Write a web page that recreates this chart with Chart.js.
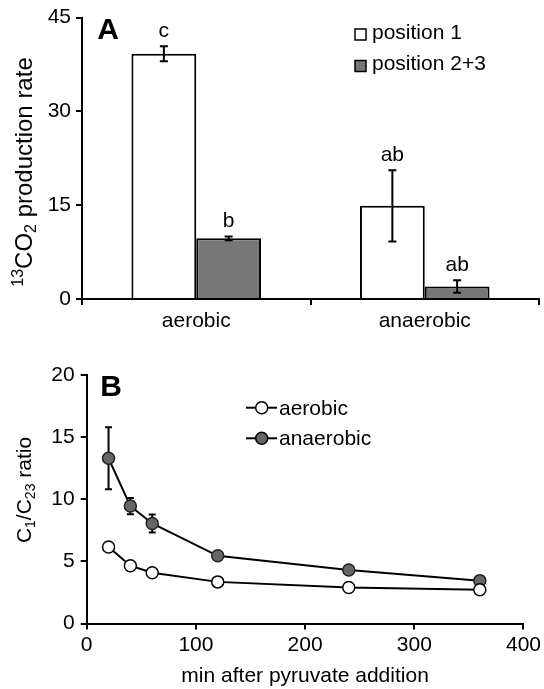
<!DOCTYPE html>
<html>
<head>
<meta charset="utf-8">
<script src="https://cdn.jsdelivr.net/npm/chart.js@4.4.1/dist/chart.umd.min.js"></script>
<style>
html, body { margin: 0; padding: 0; background: #fff; }
#wrap { position: relative; width: 544px; height: 689px; }
canvas { position: absolute; left: 0; display: block; }
</style>
</head>
<body>
<div id="wrap">
<canvas id="chartA" width="544" height="340" style="top:0"></canvas>
<canvas id="chartB" width="544" height="349" style="top:340px"></canvas>
</div>
<script>
// panel A: 13CO2 production rate
var conditions = ['aerobic', 'anaerobic'];
var pos1 = [39.2, 14.9];
var pos1Err = [1.2, 5.7];
var pos23 = [9.7, 2.0];
var pos23Err = [0.3, 1.0];
var pos1Letters = ['c', 'ab'];
var pos23Letters = ['b', 'ab'];
var rateTicks = [0, 15, 30, 45];

// panel B: C1/C23 ratio over time
var minutes = [20, 40, 60, 120, 240, 360];
var aerobicRatio = [6.15, 4.65, 4.08, 3.35, 2.9, 2.72];
var anaerobicRatio = [13.3, 9.45, 8.05, 5.45, 4.3, 3.45];
var anaerobicErr = [2.5, 0.65, 0.73, 0, 0, 0];
var timeTicks = [0, 100, 200, 300, 400];
var ratioTicks = [0, 5, 10, 15, 20];

var FONT = '"Liberation Sans", Arial, sans-serif';
Chart.defaults.font.family = FONT;
Chart.defaults.font.size = 21;
Chart.defaults.color = '#000';

function font(size, bold) {
    return (bold ? 'bold ' : '') + size + 'px ' + FONT;
}

// rotated axis title with sub/superscripts; parts = [text, 0|1(sup)|-1(sub)]
function drawRotatedTitle(ctx, parts, cx, cy, size) {
    var small = Math.round(size * 0.65);
    ctx.save();
    ctx.translate(cx, cy);
    ctx.rotate(-Math.PI / 2);
    ctx.fillStyle = '#000';
    ctx.textAlign = 'left';
    ctx.textBaseline = 'alphabetic';
    var total = 0;
    parts.forEach(function (p) {
        ctx.font = font(p[1] ? small : size);
        total += ctx.measureText(p[0]).width;
    });
    var x = -total / 2;
    parts.forEach(function (p) {
        ctx.font = font(p[1] ? small : size);
        var dy = p[1] === 1 ? -size * 0.36 : (p[1] === -1 ? size * 0.2 : 0);
        ctx.fillText(p[0], x, size * 0.36 + dy);
        x += ctx.measureText(p[0]).width;
    });
    ctx.restore();
}

function drawErr(ctx, x, top, bot, half) {
    ctx.beginPath();
    ctx.moveTo(x, top); ctx.lineTo(x, bot);
    ctx.moveTo(x - half, top); ctx.lineTo(x + half, top);
    ctx.moveTo(x - half, bot); ctx.lineTo(x + half, bot);
    ctx.stroke();
}

var barExtras = {
    id: 'barExtras',
    afterDatasetsDraw: function (chart) {
        var ctx = chart.ctx, y = chart.scales.y;
        ctx.save();
        ctx.strokeStyle = '#000';
        ctx.lineWidth = 2;
        chart.data.datasets.forEach(function (ds, i) {
            chart.getDatasetMeta(i).data.forEach(function (bar, j) {
                var top = y.getPixelForValue(ds.data[j] + ds.err[j]);
                var bot = y.getPixelForValue(ds.data[j] - ds.err[j]);
                drawErr(ctx, bar.x, top, bot, 4);
                ctx.fillStyle = '#000';
                ctx.font = font(21);
                ctx.textAlign = 'center';
                ctx.textBaseline = 'alphabetic';
                ctx.fillText(ds.letters[j], bar.x, top - 9);
            });
        });
        // legend
        chart.data.datasets.forEach(function (ds, i) {
            var base = 38.5 + i * 31.5;
            ctx.fillStyle = ds.backgroundColor;
            ctx.fillRect(355, base - 9.5, 11, 11);
            ctx.lineWidth = 1.5;
            ctx.strokeRect(355, base - 9.5, 11, 11);
            ctx.fillStyle = '#000';
            ctx.font = font(21);
            ctx.textAlign = 'left';
            ctx.fillText(ds.label, 372, base);
        });
        // panel letter
        ctx.font = font(30, true);
        ctx.textAlign = 'center';
        ctx.textBaseline = 'middle';
        ctx.fillText('A', 108, 31);
        ctx.restore();
        drawRotatedTitle(ctx, [['13', 1], ['CO', 0], ['2', -1], [' production rate', 0]], 23, 172, 24);
    }
};

var lineExtras = {
    id: 'lineExtras',
    beforeDatasetsDraw: function (chart) {
        var ctx = chart.ctx, y = chart.scales.y;
        ctx.save();
        ctx.strokeStyle = '#000';
        ctx.lineWidth = 2;
        chart.data.datasets.forEach(function (ds, i) {
            if (!ds.err) return;
            chart.getDatasetMeta(i).data.forEach(function (pt, j) {
                if (!ds.err[j]) return;
                drawErr(ctx, pt.x, y.getPixelForValue(ds.data[j].y + ds.err[j]),
                    y.getPixelForValue(ds.data[j].y - ds.err[j]), 3.5);
            });
        });
        ctx.restore();
    },
    afterDatasetsDraw: function (chart) {
        var ctx = chart.ctx;
        ctx.save();
        chart.data.datasets.forEach(function (ds, i) {
            var cy = 67.7 + i * 30.6;
            ctx.strokeStyle = '#000';
            ctx.lineWidth = 2;
            ctx.beginPath();
            ctx.moveTo(246, cy); ctx.lineTo(277, cy);
            ctx.stroke();
            ctx.beginPath();
            ctx.arc(261.7, cy, 6, 0, Math.PI * 2);
            ctx.fillStyle = ds.pointBackgroundColor;
            ctx.fill();
            ctx.lineWidth = 1.5;
            ctx.stroke();
            ctx.fillStyle = '#000';
            ctx.font = font(21);
            ctx.textAlign = 'left';
            ctx.textBaseline = 'alphabetic';
            ctx.fillText(ds.label, 279, cy + 7);
        });
        ctx.font = font(30, true);
        ctx.textAlign = 'center';
        ctx.textBaseline = 'middle';
        ctx.fillText('B', 111, 48);
        ctx.restore();
        drawRotatedTitle(ctx, [['C', 0], ['1', -1], ['/C', 0], ['23', -1], [' ratio', 0]], 23, 150, 21);
    }
};

var axisGrid = { drawOnChartArea: false, color: '#000', lineWidth: 2, tickLength: 6 };
var axisBorder = { display: true, color: '#000', width: 2 };

new Chart(document.getElementById('chartA'), {
    type: 'bar',
    data: {
        labels: conditions,
        datasets: [
            {
                label: 'position 1',
                data: pos1,
                err: pos1Err,
                letters: pos1Letters,
                backgroundColor: '#ffffff',
                borderColor: '#000',
                borderWidth: 2,
                categoryPercentage: 0.567,
                barPercentage: 1.0
            },
            {
                label: 'position 2+3',
                data: pos23,
                err: pos23Err,
                letters: pos23Letters,
                backgroundColor: '#777777',
                borderColor: '#000',
                borderWidth: 2,
                categoryPercentage: 0.567,
                barPercentage: 1.0
            }
        ]
    },
    options: {
        responsive: false,
        animation: false,
        devicePixelRatio: 1,
        layout: { padding: { left: 22, right: 5, top: 17, bottom: 0 } },
        plugins: { legend: { display: false }, tooltip: { enabled: false } },
        scales: {
            x: {
                grid: axisGrid,
                border: axisBorder,
                ticks: { padding: 4, font: { size: 21 } },
                afterFit: function (s) { s.height = 41; }
            },
            y: {
                min: rateTicks[0],
                max: rateTicks[rateTicks.length - 1],
                grid: axisGrid,
                border: axisBorder,
                ticks: { stepSize: rateTicks[1] - rateTicks[0], padding: 5, font: { size: 21 } },
                afterFit: function (s) { s.width = 60; }
            }
        }
    },
    plugins: [barExtras]
});

function points(ys) {
    return minutes.map(function (m, i) { return { x: m, y: ys[i] }; });
}

new Chart(document.getElementById('chartB'), {
    type: 'line',
    data: {
        datasets: [
            {
                label: 'aerobic',
                data: points(aerobicRatio),
                borderColor: '#000',
                borderWidth: 2,
                pointRadius: 6,
                pointBackgroundColor: '#ffffff',
                pointBorderColor: '#000',
                pointBorderWidth: 1.5,
                tension: 0
            },
            {
                label: 'anaerobic',
                data: points(anaerobicRatio),
                err: anaerobicErr,
                borderColor: '#000',
                borderWidth: 2,
                pointRadius: 6,
                pointBackgroundColor: '#666666',
                pointBorderColor: '#222',
                pointBorderWidth: 1.5,
                tension: 0
            }
        ]
    },
    options: {
        responsive: false,
        animation: false,
        devicePixelRatio: 1,
        layout: { padding: { left: 24.7, right: 18.3, top: 35, bottom: 0 } },
        plugins: { legend: { display: false }, tooltip: { enabled: false } },
        scales: {
            x: {
                type: 'linear',
                min: timeTicks[0],
                max: timeTicks[timeTicks.length - 1],
                grid: axisGrid,
                border: axisBorder,
                ticks: { stepSize: timeTicks[1] - timeTicks[0], padding: 3, font: { size: 21 } },
                title: { display: true, text: 'min after pyruvate addition', font: { size: 21 }, padding: { top: 0, bottom: 0 } },
                afterFit: function (s) { s.height = 65.5; }
            },
            y: {
                min: ratioTicks[0],
                max: ratioTicks[ratioTicks.length - 1],
                grid: axisGrid,
                border: axisBorder,
                ticks: { stepSize: ratioTicks[1] - ratioTicks[0], padding: 6, font: { size: 21 } },
                afterFit: function (s) { s.width = 62; }
            }
        }
    },
    plugins: [lineExtras]
});
</script>
</body>
</html>
